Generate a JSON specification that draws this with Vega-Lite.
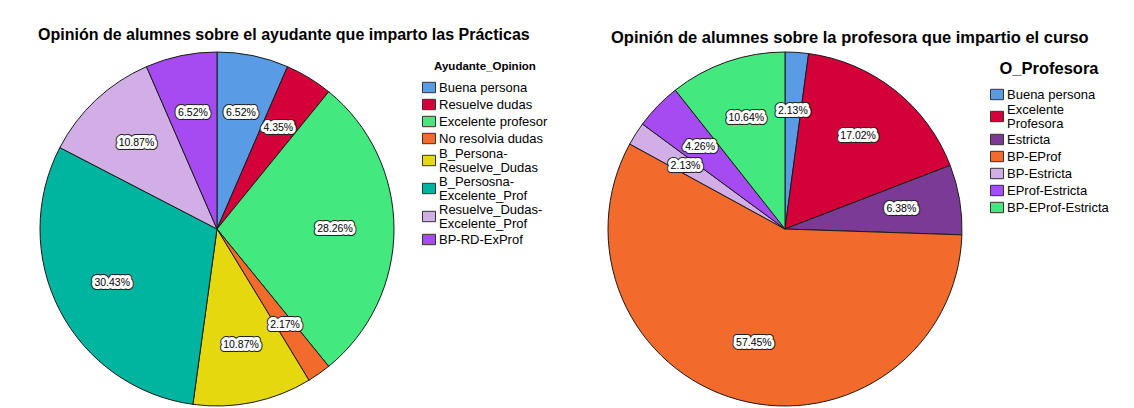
{
  "$schema": "https://vega.github.io/schema/vega-lite/v6.json",
  "background": "white",
  "padding": {"left": 38, "top": 27, "right": 0, "bottom": 0},
  "bounds": "flush",
  "spacing": 214,
  "config": {
    "font": "Liberation Sans",
    "view": {"stroke": null},
    "title": {"fontSize": 16, "fontWeight": "bold", "color": "#000000", "anchor": "start", "font": "Liberation Sans"},
    "legend": {
      "labelFont": "Liberation Sans",
      "labelFontSize": 13,
      "labelColor": "#000000",
      "labelLimit": 300,
      "titleFont": "Liberation Sans",
      "titleColor": "#000000",
      "titleAnchor": "middle",
      "symbolType": "M-1,-0.8H1V0.8H-1Z",
      "symbolSize": 169,
      "symbolStrokeColor": "#333333",
      "symbolStrokeWidth": 1,
      "symbolOpacity": 1,
      "padding": 9,
      "offset": 19,
      "labelOffset": 3,
      "rowPadding": 1
    }
  },
  "datasets": {
    "ayudante": [
      {"k": 1, "cat": "Buena persona", "share": 0.0652},
      {"k": 2, "cat": "Resuelve dudas", "share": 0.0435},
      {"k": 3, "cat": "Excelente profesor", "share": 0.2826},
      {"k": 4, "cat": "No resolvia dudas", "share": 0.0217},
      {"k": 5, "cat": "B_Persona-Resuelve_Dudas", "share": 0.1087},
      {"k": 6, "cat": "B_Persosna-Excelente_Prof", "share": 0.3043},
      {"k": 7, "cat": "Resuelve_Dudas-Excelente_Prof", "share": 0.1087},
      {"k": 8, "cat": "BP-RD-ExProf", "share": 0.0652}
    ],
    "profesora": [
      {"k": 1, "cat": "Buena persona", "share": 0.0213},
      {"k": 2, "cat": "Excelente Profesora", "share": 0.1702},
      {"k": 3, "cat": "Estricta", "share": 0.0638},
      {"k": 4, "cat": "BP-EProf", "share": 0.5745},
      {"k": 5, "cat": "BP-Estricta", "share": 0.0213},
      {"k": 6, "cat": "EProf-Estricta", "share": 0.0426},
      {"k": 7, "cat": "BP-EProf-Estricta", "share": 0.1064}
    ]
  },
  "resolve": {"scale": {"color": "independent"}},
  "hconcat": [
    {
      "title": {"text": "Opinión de alumnes sobre el ayudante que imparto las Prácticas", "offset": 7},
      "width": 354,
      "height": 354,
      "data": {"name": "ayudante"},
      "encoding": {
        "theta": {"field": "share", "type": "quantitative", "stack": true},
        "order": {"field": "k", "type": "quantitative"}
      },
      "layer": [
        {
          "mark": {"type": "arc", "outerRadius": 177, "stroke": "#1a1a1a", "strokeWidth": 1},
          "encoding": {
            "color": {
              "field": "cat", "type": "nominal",
              "scale": {
                "domain": ["Buena persona", "Resuelve dudas", "Excelente profesor", "No resolvia dudas", "B_Persona-Resuelve_Dudas", "B_Persosna-Excelente_Prof", "Resuelve_Dudas-Excelente_Prof", "BP-RD-ExProf"],
                "range": ["#5a9be6", "#d4003a", "#43e87e", "#f26a2c", "#e6d80f", "#00b5a0", "#d2aee6", "#a64bf2"]
              },
              "legend": {
                "title": "Ayudante_Opinion",
                "titleFontSize": 11.5,
                "titleFontWeight": "bold",
                "titlePadding": 8,
                "labelExpr": "split(replace(replace(replace(datum.label, 'Persona-', 'Persona-|'), 'Persosna-', 'Persosna-|'), 'Dudas-', 'Dudas-|'), '|')",
                "encode": {
                  "labels": {
                    "update": {
                      "lineHeight": {"value": 14},
                      "dy": {"signal": "indexof(datum.label, 'Persona-') >= 0 || indexof(datum.label, 'Persosna-') >= 0 || indexof(datum.label, 'Dudas-') >= 0 ? -7 : 0"}
                    }
                  }
                }
              }
            }
          }
        },
        {
          "mark": {"type": "text", "radius": 118, "fontSize": 10.5, "fill": "#000000", "stroke": "#222222", "strokeWidth": 8, "strokeJoin": "round"},
          "encoding": {"text": {"field": "share", "type": "quantitative", "format": ".2%"}}
        },
        {
          "mark": {"type": "text", "radius": 118, "fontSize": 10.5, "fill": "#ffffff", "stroke": "#ffffff", "strokeWidth": 6, "strokeJoin": "round"},
          "encoding": {"text": {"field": "share", "type": "quantitative", "format": ".2%"}}
        },
        {
          "mark": {"type": "text", "radius": 118, "fontSize": 10.5, "fill": "#000000"},
          "encoding": {"text": {"field": "share", "type": "quantitative", "format": ".2%"}}
        }
      ]
    },
    {
      "title": {"text": "Opinión de alumnes sobre la profesora que impartio el curso", "offset": 4, "dx": 5, "fontSize": 16.5},
      "width": 354,
      "height": 354,
      "data": {"name": "profesora"},
      "encoding": {
        "theta": {"field": "share", "type": "quantitative", "stack": true},
        "order": {"field": "k", "type": "quantitative"}
      },
      "layer": [
        {
          "mark": {"type": "arc", "outerRadius": 177, "stroke": "#1a1a1a", "strokeWidth": 1},
          "encoding": {
            "color": {
              "field": "cat", "type": "nominal",
              "scale": {
                "domain": ["Buena persona", "Excelente Profesora", "Estricta", "BP-EProf", "BP-Estricta", "EProf-Estricta", "BP-EProf-Estricta"],
                "range": ["#5a9be6", "#d4003a", "#7a3a96", "#f26a2c", "#d2aee6", "#a64bf2", "#43e87e"]
              },
              "legend": {
                "title": "O_Profesora",
                "titleFontSize": 16.5,
                "titleFontWeight": "bold",
                "titlePadding": 10,
                "labelExpr": "split(replace(datum.label, 'Excelente ', 'Excelente|'), '|')",
                "encode": {
                  "labels": {
                    "update": {
                      "lineHeight": {"value": 14},
                      "dy": {"signal": "indexof(datum.label, 'Excelente ') >= 0 ? -7 : 0"}
                    }
                  }
                }
              }
            }
          }
        },
        {
          "mark": {"type": "text", "radius": 118, "fontSize": 10.5, "fill": "#000000", "stroke": "#222222", "strokeWidth": 8, "strokeJoin": "round"},
          "encoding": {"text": {"field": "share", "type": "quantitative", "format": ".2%"}}
        },
        {
          "mark": {"type": "text", "radius": 118, "fontSize": 10.5, "fill": "#ffffff", "stroke": "#ffffff", "strokeWidth": 6, "strokeJoin": "round"},
          "encoding": {"text": {"field": "share", "type": "quantitative", "format": ".2%"}}
        },
        {
          "mark": {"type": "text", "radius": 118, "fontSize": 10.5, "fill": "#000000"},
          "encoding": {"text": {"field": "share", "type": "quantitative", "format": ".2%"}}
        }
      ]
    }
  ]
}
